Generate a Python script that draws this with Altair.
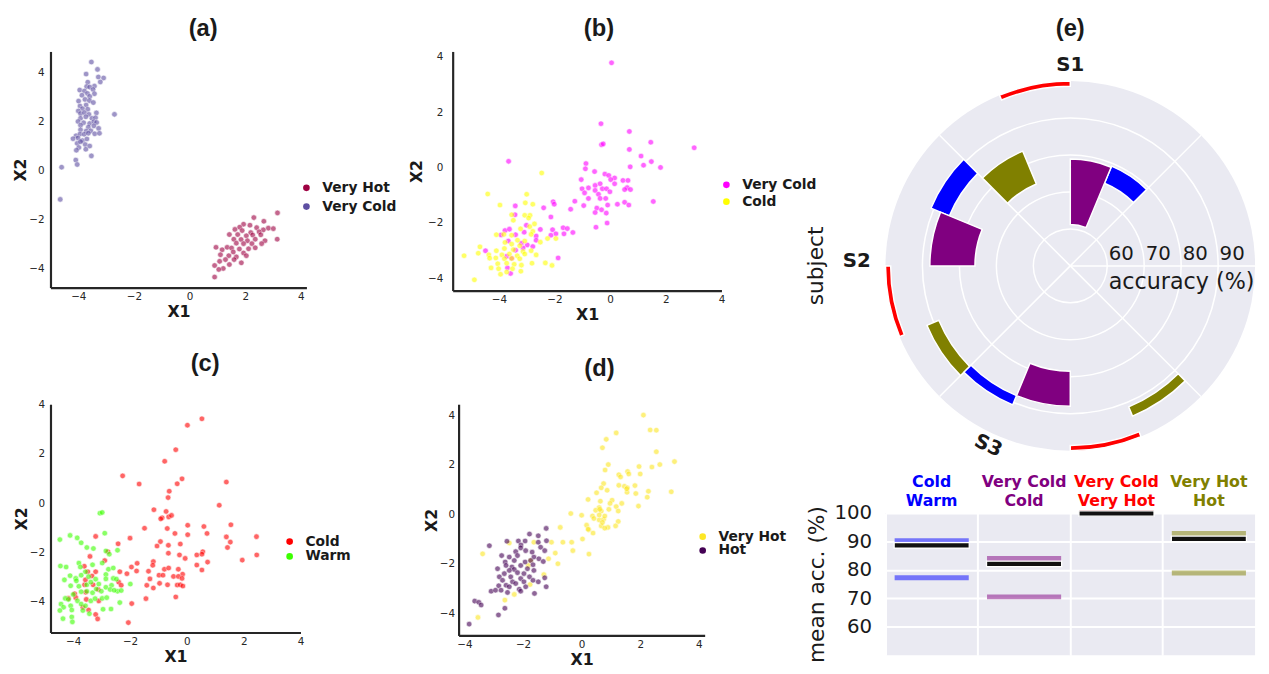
import math
import altair as alt
import pandas as pd

# ---------------- scatter data ----------------
# (a) Very Hot / Very Cold
ax_vh = [3.16,2.31,2.67,1.94,2.17,1.80,2.41,1.63,1.89,2.83,3.01,2.65,2.20,2.50,1.43,1.73,2.04,2.27,2.56,3.15,2.71,1.59,1.85,2.36,2.08,1.68,1.94,2.24,2.59,0.95,1.35,1.17,1.51,1.79,2.12,2.36,1.57,1.94,1.11,1.41,1.68,2.04,1.29,1.60,1.86,1.08,1.43,0.90,1.21,1.05,0.90]
ay_vh = [-1.73,-1.92,-2.07,-2.19,-2.23,-2.31,-2.33,-2.40,-2.45,-2.35,-2.37,-2.42,-2.53,-2.50,-2.61,-2.61,-2.66,-2.63,-2.62,-2.80,-2.86,-2.80,-2.81,-2.80,-2.86,-2.96,-2.98,-2.98,-2.98,-3.13,-3.13,-3.23,-3.16,-3.20,-3.19,-3.15,-3.32,-3.36,-3.43,-3.47,-3.52,-3.47,-3.63,-3.63,-3.76,-3.70,-3.83,-3.87,-3.99,-4.03,-4.34]
ax_vc = [-3.53,-3.31,-3.72,-3.28,-3.09,-3.21,-3.66,-3.70,-3.42,-3.59,-3.95,-3.47,-3.78,-3.67,-3.42,-3.87,-3.59,-3.99,-3.76,-3.60,-3.46,-3.94,-3.72,-3.85,-3.66,-4.00,-3.92,-3.78,-3.62,-3.35,-2.70,-3.92,-3.73,-3.51,-3.38,-4.01,-3.81,-3.59,-3.44,-3.34,-3.92,-3.64,-3.44,-3.92,-3.72,-3.55,-3.27,-4.08,-3.94,-3.79,-3.64,-3.41,-3.24,-4.19,-4.01,-3.85,-3.69,-4.04,-3.92,-3.75,-3.59,-3.98,-3.73,-4.07,-3.53,-4.09,-4.04,-4.60,-4.65]
ay_vc = [4.41,4.11,3.92,3.80,3.76,3.60,3.59,3.41,3.43,3.39,3.27,3.29,3.23,3.13,3.12,3.06,3.01,2.82,2.89,2.84,2.76,2.62,2.66,2.51,2.49,2.42,2.31,2.35,2.28,2.34,2.28,2.12,2.18,2.12,2.14,1.99,1.94,1.91,1.98,1.95,1.84,1.76,1.81,1.65,1.60,1.61,1.71,1.41,1.48,1.47,1.51,1.49,1.51,1.29,1.32,1.21,1.28,1.10,1.17,1.05,0.99,0.93,0.86,0.82,0.59,0.42,0.24,0.13,-1.18]

# (b) Very Cold / Cold
bx_vc = [0.05,-0.33,-0.31,-0.25,0.69,1.46,3.02,0.69,1.11,1.48,1.20,0.72,1.81,-0.87,-0.89,-3.65,-0.56,-0.19,-0.05,0.16,0.02,-1.04,0.46,0.64,-0.54,-0.36,0.16,-1.01,-0.78,-0.28,-0.13,0.61,0.73,0.52,-0.54,-0.01,-0.92,-0.42,-0.78,-0.36,-0.16,0.52,1.55,0.67,0.26,-0.09,-0.95,-0.48,-0.31,-0.54,-0.14,-0.11,-0.51,-3.41,-2.05,-2.01,-1.27,-2.39,-1.42,-3.42,-2.13,-3.01,-3.78,-3.62,-3.09,-3.40,-3.92,-2.51,-2.07,-1.69,-1.54,-1.95,-1.66,-1.34,-2.66,-2.13,-3.66,-3.19,-2.66,-2.98,-2.78,-3.13,-3.40,-4.48,-3.72,-3.54,-1.87,-3.69,-3.58]
by_vc = [3.78,1.58,0.82,0.85,1.30,0.91,0.71,0.65,0.41,0.21,0.08,0.02,0.00,0.14,-0.05,0.22,-0.15,-0.24,-0.29,-0.38,-0.44,-0.44,-0.47,-0.47,-0.65,-0.59,-0.59,-0.77,-0.74,-0.77,-0.77,-0.73,-0.80,-0.80,-0.83,-0.88,-0.92,-0.97,-1.12,-1.12,-1.12,-1.26,-1.23,-1.36,-1.33,-1.36,-1.38,-1.47,-1.53,-1.63,-1.65,-2.01,-2.16,-1.39,-1.24,-1.33,-1.22,-1.46,-1.51,-1.71,-1.79,-2.09,-2.28,-2.23,-2.34,-2.43,-2.44,-2.24,-2.25,-2.18,-2.21,-2.40,-2.40,-2.35,-2.48,-2.45,-2.66,-2.74,-2.63,-2.80,-2.86,-2.91,-2.99,-3.01,-3.21,-3.28,-3.27,-3.63,-3.83]
bx_c = [-2.46,-4.40,-3.00,-3.96,-3.05,-2.78,-3.54,-3.07,-2.88,-2.93,-3.48,-2.72,-2.89,-3.22,-2.78,-4.09,-3.82,-3.54,-2.84,-3.33,-3.07,-2.51,-2.25,-1.95,-3.78,-3.54,-3.25,-4.68,-3.80,-4.09,-3.48,-3.13,-2.84,-4.74,-4.36,-3.89,-3.62,-3.34,-3.07,-2.66,-5.25,-4.33,-4.11,-3.80,-3.54,-3.25,-4.04,-3.72,-3.45,-3.19,-2.81,-2.33,-2.09,-4.28,-4.01,-3.51,-3.21,-3.94,-4.88,-3.72]
by_c = [-0.20,-0.96,-0.97,-1.36,-1.28,-1.33,-1.71,-1.73,-1.73,-1.83,-1.91,-2.04,-2.14,-2.22,-2.31,-2.43,-2.42,-2.45,-2.42,-2.63,-2.66,-2.70,-2.57,-2.57,-2.71,-2.77,-2.83,-2.87,-2.93,-3.01,-2.97,-3.04,-3.01,-3.10,-3.16,-3.16,-3.13,-3.19,-3.13,-3.16,-3.19,-3.28,-3.27,-3.30,-3.29,-3.30,-3.48,-3.46,-3.50,-3.53,-3.46,-3.45,-3.54,-3.63,-3.66,-3.66,-3.75,-3.86,-4.06,-3.78]

# (c) Cold / Warm
cx_c = [0.53,0.02,-0.39,-0.78,-2.26,-0.17,-0.34,-1.68,1.39,-0.62,-0.66,1.14,-1.16,-0.73,-0.87,-0.92,-0.64,-0.54,0.03,0.60,1.55,-1.49,-0.69,-0.42,0.03,0.71,-3.21,-2.00,1.39,2.45,-0.93,1.53,-2.42,-0.65,-0.23,-1.05,1.43,0.56,-0.65,-0.26,0.35,0.53,-0.06,2.46,1.95,-2.89,-2.78,-3.41,0.73,-1.18,-1.75,0.35,-1.95,-1.20,-0.79,-1.77,-1.35,-0.64,0.53,-0.30,-2.36,-0.98,-0.84,-0.15,-0.47,-0.30,-0.17,-1.30,-2.11,-3.61,-3.21,-3.49,-3.34,-2.40,-2.31,-0.96,-0.68,-1.41,-1.18,-0.34,-0.23,-0.14,-3.60,-3.30,-3.12,-3.56,-3.95,-3.91,-4.17,-3.54,-0.39,-1.44,-3.66,-3.46,-3.21,-3.14,-1.94,-2.06,-3.10,-3.57]
cy_c = [3.41,3.15,2.16,1.69,1.10,0.98,0.78,0.77,0.85,0.48,0.22,-0.09,-0.27,-0.34,-0.60,-0.64,-0.56,-0.50,-0.90,-0.95,-0.88,-1.02,-1.03,-1.23,-1.28,-1.23,-1.35,-1.42,-1.37,-1.36,-1.56,-1.58,-1.65,-1.71,-1.66,-1.74,-1.80,-1.97,-2.03,-2.10,-2.10,-2.07,-2.24,-2.10,-2.31,-2.33,-1.97,-2.16,-2.39,-2.37,-2.44,-2.51,-2.59,-2.52,-2.68,-2.75,-2.76,-2.63,-2.71,-2.68,-2.78,-2.92,-2.92,-2.88,-2.97,-2.97,-3.05,-3.07,-2.86,-2.56,-2.78,-2.78,-2.95,-3.20,-3.33,-3.25,-3.31,-3.33,-3.44,-3.32,-3.31,-3.36,-3.31,-3.31,-3.50,-3.61,-3.67,-3.83,-3.86,-3.90,-3.80,-3.87,-4.22,-4.33,-4.51,-4.69,-4.07,-4.84,-3.96,-3.11]
cx_w = [-3.06,-2.98,-4.47,-4.11,-3.86,-3.72,-3.52,-3.29,-2.89,-2.85,-2.44,-2.73,-4.45,-4.25,-3.80,-3.75,-3.32,-2.98,-2.76,-2.59,-3.57,-4.31,-4.11,-3.91,-3.72,-3.46,-3.21,-2.85,-2.85,-2.59,-2.48,-1.99,-4.09,-3.89,-3.80,-3.52,-3.38,-3.10,-2.85,-2.65,-2.44,-2.31,-4.28,-4.17,-4.00,-3.72,-3.52,-3.32,-3.19,-3.01,-2.70,-2.56,-4.43,-4.34,-4.09,-3.85,-3.72,-3.57,-3.38,-3.23,-2.98,-2.82,-2.67,-2.36,-4.05,-3.66,-3.43,-2.95,-4.47,-4.36,-4.05,-4.03]
cy_w = [-0.41,-0.38,-1.48,-1.31,-1.41,-1.61,-1.80,-1.84,-1.22,-1.94,-1.91,-2.07,-2.55,-2.59,-2.43,-2.59,-2.50,-2.43,-2.68,-2.63,-2.78,-3.11,-2.94,-3.05,-2.92,-2.98,-3.08,-2.89,-3.07,-3.05,-3.08,-3.28,-3.35,-3.15,-3.37,-3.31,-3.20,-3.28,-3.41,-3.33,-3.57,-3.54,-3.86,-3.90,-3.70,-3.59,-3.57,-3.63,-3.48,-3.57,-3.50,-3.53,-4.09,-4.22,-4.16,-3.96,-4.09,-4.16,-3.96,-3.87,-3.86,-3.83,-4.29,-4.03,-4.33,-4.35,-4.48,-4.30,-4.35,-4.68,-4.61,-4.81]

# (d) Very Hot / Hot
dx_vh = [2.11,2.34,2.55,1.18,0.84,0.71,2.55,3.17,2.67,0.91,1.96,2.40,0.80,1.57,1.27,1.61,2.00,1.33,0.75,1.27,1.46,1.82,0.67,0.87,1.56,2.28,3.06,0.51,1.55,1.85,2.24,0.22,0.64,1.04,0.97,1.37,1.94,1.18,0.60,0.48,0.67,0.93,1.25,-0.37,0.00,0.37,0.42,0.60,0.75,1.25,0.17,0.67,0.90,1.16,-0.73,0.24,0.79,0.39,0.03,-1.03,-0.64,-0.34,-1.63,-2.47,-0.30,0.25,-0.90,-1.13,-0.81,-3.38,-1.74,-1.82,-1.29,-1.76,-2.30,-2.62,-3.54,0.62,0.60,0.79,0.71,1.54,0.22]
dy_vh = [4.01,3.41,3.40,3.29,3.03,2.69,2.53,2.13,2.01,2.01,1.93,1.91,1.79,1.73,1.60,1.63,1.63,1.51,1.24,1.17,1.13,1.16,1.07,0.97,1.07,0.93,0.91,0.87,0.89,0.84,0.69,0.60,0.53,0.57,0.44,0.44,0.33,0.31,0.27,0.16,0.13,0.20,0.13,0.03,-0.04,-0.07,-0.17,-0.23,-0.20,-0.29,-0.44,-0.47,-0.53,-0.47,-0.53,-0.63,-0.56,-0.76,-1.00,-1.13,-1.13,-1.13,-1.13,-1.16,-1.47,-1.61,-1.57,-1.80,-2.00,-1.60,-1.87,-2.07,-2.44,-2.84,-3.24,-3.47,-4.17,0.20,-0.03,-0.07,-0.33,1.03,-0.60]
dx_h = [-1.21,-1.78,-1.48,-1.20,-2.55,-2.16,-1.93,-2.07,-1.48,-3.15,-2.08,-1.40,-2.25,-1.91,-1.69,-1.26,-2.73,-2.47,-2.19,-1.63,-1.46,-2.61,-2.30,-1.93,-1.74,-1.31,-2.58,-2.38,-2.08,-1.66,-2.87,-2.30,-2.47,-1.85,-2.64,-2.19,-1.97,-1.63,-2.81,-2.42,-2.08,-1.78,-2.70,-2.36,-1.97,-1.66,-1.48,-1.26,-2.58,-2.25,-2.83,-2.47,-2.13,-1.91,-1.21,-3.09,-2.94,-2.75,-2.53,-2.08,-1.61,-3.65,-3.51,-3.43,-2.62,-2.84,-3.84]
dy_h = [-0.57,-0.80,-0.87,-1.07,-1.09,-1.08,-1.08,-1.24,-1.13,-1.27,-1.36,-1.33,-1.51,-1.47,-1.53,-1.47,-1.67,-1.73,-1.67,-1.73,-1.80,-1.93,-1.87,-1.93,-1.87,-1.91,-2.07,-2.13,-2.07,-2.04,-2.20,-2.23,-2.27,-2.20,-2.40,-2.36,-2.40,-2.27,-2.53,-2.53,-2.60,-2.53,-2.67,-2.73,-2.73,-2.67,-2.73,-2.57,-2.87,-2.80,-2.89,-2.93,-3.03,-2.93,-2.93,-3.11,-3.07,-3.07,-3.16,-3.11,-3.20,-3.51,-3.56,-3.67,-3.80,-4.07,-4.44]

# ---------------- panel (e) data ----------------
subjects = ["S1", "S2", "S3"]
pairs = ["Cold/Warm", "Very Cold/Cold", "Very Cold/Very Hot", "Very Hot/Hot"]
pair_colors = ["#0000ff", "#800080", "#ff0000", "#808000"]
polar_lo = {"S1": [74.2, 61.2, 98.6, 74.0], "S2": [85.4, 75.8, 98.6, 88.5], "S3": [88.0, 78.5, 98.6, 91.3]}
polar_hi = {"S1": [79.2, 78.9, 100.0, 83.6], "S2": [90.8, 88.0, 100.0, 92.0], "S3": [90.7, 88.0, 100.0, 94.0]}
ring_values = [60, 70, 80, 90]
spoke_angles = [0, 45, 135, 225, 315]
mean_lines_a = [90.2, 84.0, 100.0, 92.8]
mean_lines_b = [77.2, 70.5, 100.0, 78.9]
mean_black = [88.6, 82.1, 99.8, 90.9]
header_1 = ["Cold", "Very Cold", "Very Cold", "Very Hot"]
header_2 = ["Warm", "Cold", "Very Hot", "Hot"]

FONT = "DejaVu Sans"
TFONT = "Liberation Sans"
INK = "#1a1a1a"
BG = "#EAEAF2"


def scatter_panel(xa, ya, xb, yb, names, colors, xdom, ydom, w, h, label,
                  t_dx, t_off, lx, ly, lrow, lpad, tpad):
    df = pd.DataFrame({
        "X1": list(xa) + list(xb),
        "X2": list(ya) + list(yb),
        "cls": [names[0]] * len(xa) + [names[1]] * len(xb),
    })
    common = dict(values=[-4, -2, 0, 2, 4], ticks=False, grid=False,
                  domainColor="#262626", domainWidth=2.2, labelFont=FONT,
                  labelFontSize=10.5, labelColor="#262626", titleFont=FONT,
                  titleFontSize=16, titleFontWeight="bold", titleColor=INK)
    return alt.Chart(df).mark_circle(size=32, opacity=0.6, stroke="white", strokeWidth=0.6).encode(
        x=alt.X("X1:Q", scale=alt.Scale(domain=xdom, nice=False, zero=False),
                axis=alt.Axis(title="X1", labelPadding=4, titlePadding=2, labelFlush=False, **common)),
        y=alt.Y("X2:Q", scale=alt.Scale(domain=ydom, nice=False, zero=False),
                axis=alt.Axis(title="X2", labelPadding=lpad, titlePadding=tpad, **common)),
        color=alt.Color("cls:N", sort=names, scale=alt.Scale(domain=names, range=colors),
                        legend=alt.Legend(title=None, orient="none", legendX=lx, legendY=ly,
                                          labelFont=FONT, labelFontSize=14, labelFontWeight="bold",
                                          labelColor=INK, symbolType="circle", symbolSize=45,
                                          symbolOpacity=1, symbolStrokeWidth=0, labelOffset=9,
                                          rowPadding=lrow, padding=0)),
    ).properties(
        width=w, height=h,
        title=alt.TitleParams(label, font=TFONT, fontSize=24, fontWeight="bold", anchor="middle",
                              frame="group", dx=t_dx, offset=t_off, color=INK),
    )


a = scatter_panel(ax_vh, ay_vh, ax_vc, ay_vc, ["Very Hot", "Very Cold"], ["#9e0142", "#5e4fa2"],
                  [-5.0, 4.2], [-4.77, 4.84], 259, 239, "(a)", 25, 11, 252, 131, 5, 6.5, 0)
b = scatter_panel(bx_vc, by_vc, bx_c, by_c, ["Very Cold", "Cold"], ["#ff00ff", "#ffff00"],
                  [-5.66, 4.0], [-4.45, 4.19], 272, 242, "(b)", 12, 11, 270, 128, 3, 10, 3.5)
c = scatter_panel(cx_c, cy_c, cx_w, cy_w, ["Cold", "Warm"], ["#ff0000", "#3cff00"],
                  [-4.8, 4.0], [-5.24, 4.0], 253, 231, "(c)", 30, 24, 235, 132, 1, 6, 0)
d = scatter_panel(dx_vh, dy_vh, dx_h, dy_h, ["Very Hot", "Hot"], ["#fde725", "#440154"],
                  [-4.2, 4.2], [-4.9, 4.45], 249, 234, "(d)", 18, 24, 240, 127, 0, 4, 0)

# ---------------- polar panel ----------------
R = 187
EXTRA = 30                      # free space above the disc, inside the panel
UNIT = R / 50.0                 # pixels per accuracy point
th_sc = alt.Scale(domain=[0, 360], range=[0, 2 * math.pi])
r_sc = alt.Scale(type="linear", domain=[50, 100], range=[0, R], zero=False)
x_pol = alt.Scale(domain=[-50, 50], nice=False, zero=False)
y_pol = alt.Scale(domain=[-50, 50 + EXTRA / UNIT], nice=False, zero=False)


def arc_chart(df, t0, t1, ro, ri, **mk):
    df = df.copy()
    df["cx"] = 0.0
    df["cy"] = 0.0
    return alt.Chart(df).mark_arc(**mk).encode(
        x=alt.X("cx:Q", scale=x_pol, axis=None), y=alt.Y("cy:Q", scale=y_pol, axis=None),
        theta=alt.Theta(f"{t0}:Q", scale=th_sc, stack=False), theta2=alt.Theta2(f"{t1}:Q"),
        radius=alt.Radius(f"{ro}:Q", scale=r_sc), radius2=alt.Radius2(f"{ri}:Q"))


bg = arc_chart(pd.DataFrame({"t0": [0], "t1": [360], "ro": [100], "ri": [50]}),
               "t0", "t1", "ro", "ri", fill=BG)
rings = arc_chart(pd.DataFrame({"t0": [0] * 4, "t1": [360] * 4,
                                "ro": [v + 0.2 for v in ring_values],
                                "ri": [v - 0.2 for v in ring_values]}),
                  "t0", "t1", "ro", "ri", fill="white")

spk = pd.DataFrame({"x0": [0.0] * len(spoke_angles), "y0": [0.0] * len(spoke_angles),
                    "x1": [50 * math.cos(math.radians(p)) for p in spoke_angles],
                    "y1": [50 * math.sin(math.radians(p)) for p in spoke_angles]})
spokes = alt.Chart(spk).mark_rule(color="white", strokeWidth=1.5).encode(
    x=alt.X("x0:Q", scale=x_pol, axis=None), y=alt.Y("y0:Q", scale=y_pol, axis=None),
    x2="x1:Q", y2="y1:Q")

rows = []
for s, subj in enumerate(subjects):
    for p, pair in enumerate(pairs):
        phi0 = 45 + 90 * s + 22.5 * p
        ta = (90 - phi0 - 22.5) % 360
        rows.append({"subject": subj, "pair": pair, "ta": ta, "tb": ta + 22.5,
                     "lo": polar_lo[subj][p], "hi": polar_hi[subj][p]})
pbars = arc_chart(pd.DataFrame(rows), "ta", "tb", "hi", "lo",
                  stroke="white", strokeWidth=1.5).encode(
    color=alt.Color("pair:N", scale=alt.Scale(domain=pairs, range=pair_colors), legend=None))


def txt(df, **kw):
    return alt.Chart(df).mark_text(**kw).encode(
        x=alt.X("x:Q", scale=x_pol, axis=None), y=alt.Y("y:Q", scale=y_pol, axis=None), text="t:N")


rlab = txt(pd.DataFrame({"x": [v - 50 + 0.4 for v in ring_values], "y": [3.2] * 4,
                         "t": [str(v) for v in ring_values]}),
           align="left", baseline="middle", font=FONT, fontSize=20, color=INK)
acc_lab = txt(pd.DataFrame({"x": [10.4], "y": [-4.3], "t": ["accuracy (%)"]}),
              align="left", baseline="middle", font=FONT, fontSize=22.5, color=INK)
s12 = txt(pd.DataFrame({"x": [0.0, -57.8], "y": [54.3, 1.4], "t": ["S1", "S2"]}),
          align="center", baseline="middle", font=FONT, fontSize=20, fontWeight="bold", color=INK)
s3 = txt(pd.DataFrame({"x": [-22.2], "y": [-48.7], "t": ["S3"]}),
         align="center", baseline="middle", font=FONT, fontSize=20, fontWeight="bold", color=INK, angle=25)
subj = txt(pd.DataFrame({"x": [-68.7], "y": [0.0], "t": ["subject"]}),
           align="center", baseline="middle", font=FONT, fontSize=22, color=INK, angle=270)

polar = alt.layer(bg, rings, spokes, pbars, rlab, acc_lab, s12, s3, subj).properties(
    width=2 * R, height=2 * R + EXTRA,
    title=alt.TitleParams("(e)", font=TFONT, fontSize=24, fontWeight="bold", anchor="middle",
                          frame="group", offset=11, color=INK))

# ---------------- mean accuracy panel ----------------
X_AX = alt.Axis(title=None, labels=False, ticks=False, domain=False, grid=True,
                gridColor="white", gridWidth=2, bandPosition=0)
Y_AX = alt.Axis(values=[60, 70, 80, 90, 100], title="mean acc. (%)", grid=True, gridColor="white",
                gridWidth=2, ticks=False, domain=False, labelFont=FONT, labelFontSize=20,
                labelPadding=14, labelColor=INK, titleFont=FONT, titleFontSize=22,
                titleFontWeight="normal", titlePadding=6, titleColor=INK)
x_sc = alt.Scale(domain=pairs, paddingInner=0, paddingOuter=0)
y_sc = alt.Scale(domain=[50, 100], nice=False, zero=False)


def xy_enc():
    return dict(x=alt.X("pair:N", sort=pairs, scale=x_sc, axis=X_AX),
                y=alt.Y("acc:Q", scale=y_sc, axis=Y_AX))


col_df = pd.DataFrame({"pair": pairs + pairs, "acc": mean_lines_a + mean_lines_b})
blk_df = pd.DataFrame({"pair": pairs, "acc": mean_black})
hdr_df = pd.DataFrame({"pair": pairs, "acc": [100] * 4, "l1": header_1, "l2": header_2})
pc = alt.Scale(domain=pairs, range=pair_colors)

col_ticks = alt.Chart(col_df).mark_tick(thickness=5, size=75, opacity=0.5).encode(
    color=alt.Color("pair:N", scale=pc, legend=None), **xy_enc())
blk_ticks = alt.Chart(blk_df).mark_tick(thickness=5.5, size=76, opacity=1, color="#111111",
                                        stroke="white", strokeWidth=1.3).encode(**xy_enc())
hdr1 = alt.Chart(hdr_df).mark_text(dy=-31, font=FONT, fontSize=16, fontWeight="bold",
                                   baseline="middle").encode(
    text="l1:N", color=alt.Color("pair:N", scale=pc, legend=None), **xy_enc())
hdr2 = alt.Chart(hdr_df).mark_text(dy=-12, font=FONT, fontSize=16, fontWeight="bold",
                                   baseline="middle").encode(
    text="l2:N", color=alt.Color("pair:N", scale=pc, legend=None), **xy_enc())

means = alt.layer(col_ticks, blk_ticks, hdr1, hdr2).properties(
    width=2 * R, height=144, view=alt.ViewBackground(fill=BG, stroke=None))

IND = dict(x="independent", y="independent", color="independent")
row1 = alt.hconcat(a, b, spacing=11).resolve_scale(**IND)
row2 = alt.hconcat(c, d, spacing=73).resolve_scale(**IND)
left = alt.vconcat(row1, row2, spacing=29).resolve_scale(**IND)
right = alt.vconcat(polar, means, spacing=13).resolve_scale(**IND)

chart = alt.hconcat(left, right, spacing=-13).resolve_scale(**IND).configure_view(
    stroke=None).properties(padding={"left": 5, "top": 5, "right": 5, "bottom": 0})

chart.save("out.html", embed_options={"renderer": "svg", "actions": False})
